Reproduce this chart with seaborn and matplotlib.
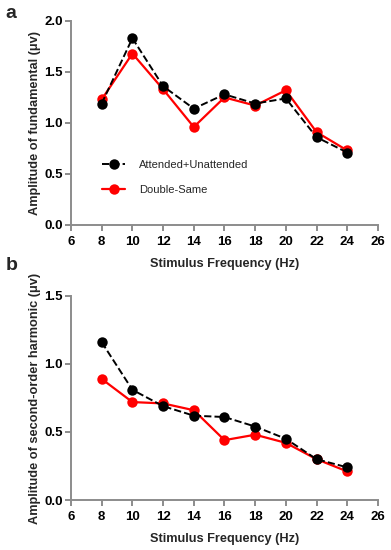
import numpy as np
import pandas as pd
import matplotlib
matplotlib.use("Agg")
import matplotlib.pyplot as plt
import seaborn as sns

# data
freq = [8, 10, 12, 14, 16, 18, 20, 22, 24]
fund_att_unatt = [1.19, 1.83, 1.36, 1.14, 1.28, 1.19, 1.24, 0.86, 0.71]
fund_double = [1.23, 1.68, 1.33, 0.96, 1.25, 1.17, 1.32, 0.91, 0.73]
harm_att_unatt = [1.16, 0.81, 0.69, 0.62, 0.61, 0.54, 0.45, 0.30, 0.24]
harm_double = [0.89, 0.72, 0.71, 0.66, 0.44, 0.48, 0.42, 0.30, 0.21]
x_ticks = [6, 8, 10, 12, 14, 16, 18, 20, 22, 24, 26]

sns.set_style("ticks")
plt.rcParams['font.family'] = ['Liberation Sans', 'DejaVu Sans']

fig = plt.figure(figsize=(3.91, 5.5), dpi=100)
ax_a = fig.add_axes([0.1816, 0.591, 0.785, 0.371])
ax_b = fig.add_axes([0.1816, 0.0909, 0.785, 0.371])

spine_col = "#8c8c8c"


def draw_panel(ax, black, red, ymax, yticks, ylabel, legend):
    sns.lineplot(x=freq, y=black, ax=ax, color="black", linestyle="--",
                 marker="o", markersize=7.5, markeredgewidth=0, linewidth=1.4,
                 label="Attended+Unattended", zorder=3)
    sns.lineplot(x=freq, y=red, ax=ax, color="red", linestyle="-",
                 marker="o", markersize=7.5, markeredgewidth=0, linewidth=1.6,
                 label="Double-Same", zorder=2)
    ax.set_xlim(6, 26)
    ax.set_ylim(0, ymax)
    ax.set_xticks(x_ticks)
    ax.set_yticks(yticks)
    ax.set_yticklabels([f"{t:.1f}" for t in yticks])
    ax.set_xlabel("Stimulus Frequency (Hz)", fontsize=9.2, fontweight="bold", labelpad=7)
    ax.set_ylabel(ylabel, fontsize=9.2, fontweight="bold", labelpad=2)
    for s in ["top", "right"]:
        ax.spines[s].set_visible(False)
    for s in ["left", "bottom"]:
        ax.spines[s].set_color(spine_col)
        ax.spines[s].set_linewidth(1.4)
    ax.tick_params(axis="both", colors=spine_col, width=1.4, length=4,
                   labelsize=9.5, labelcolor="black", pad=2)
    ax.tick_params(axis="x", pad=4)
    for lab in ax.get_xticklabels() + ax.get_yticklabels():
        lab.set_fontweight("bold")
    if legend:
        ax.legend(loc="lower left", bbox_to_anchor=(0.07, 0.10), frameon=False,
                  fontsize=8, handlelength=2.0, labelspacing=1.3, handletextpad=1.3)
    else:
        ax.get_legend().remove()


draw_panel(ax_a, fund_att_unatt, fund_double, 2.0, [0.0, 0.5, 1.0, 1.5, 2.0],
           "Amplitude of fundamental (\u03bcv)", True)
draw_panel(ax_b, harm_att_unatt, harm_double, 1.5, [0.0, 0.5, 1.0, 1.5],
           "Amplitude of second-order harmonic (\u03bcv)", False)

fig.text(0.015, 0.975, "a", fontsize=14, fontweight="bold", va="center")
fig.text(0.015, 0.518, "b", fontsize=14, fontweight="bold", va="center")

fig.savefig("out.png", dpi=100)
